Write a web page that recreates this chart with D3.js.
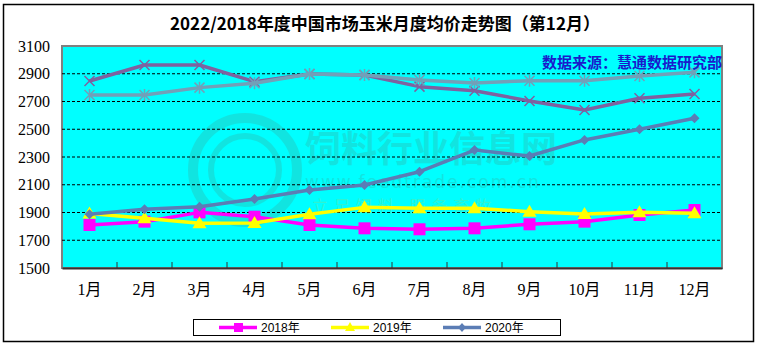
<!DOCTYPE html>
<html>
<head>
<meta charset="utf-8">
<script src="https://cdn.jsdelivr.net/npm/d3@7"></script>
<style>
  html, body { margin: 0; padding: 0; background: #fff; }
  svg { display: block; }
</style>
</head>
<body>
<svg id="chart" width="758" height="343"></svg>
<script>
// data
const months = ["1月", "2月", "3月", "4月", "5月", "6月", "7月", "8月", "9月", "10月", "11月", "12月"];
const yTicks = [1500, 1700, 1900, 2100, 2300, 2500, 2700, 2900, 3100];
const v2018 = [1810, 1834, 1901, 1870, 1810, 1786, 1779, 1786, 1815, 1834, 1882, 1918];
const v2019 = [1893, 1858, 1822, 1825, 1887, 1937, 1930, 1930, 1906, 1889, 1901, 1894];
const v2020 = [1887, 1923, 1942, 1997, 2062, 2098, 2194, 2350, 2307, 2423, 2500, 2579];
const v2021 = [2848, 2963, 2963, 2843, 2898, 2891, 2807, 2778, 2704, 2639, 2723, 2754];
const v2022 = [2747, 2747, 2800, 2831, 2898, 2891, 2855, 2833, 2850, 2850, 2884, 2910];

const series = [
  { name: "2018年", values: v2018, color: "#ff00ff", marker: "square", legend: true },
  { name: "2019年", values: v2019, color: "#ffff00", marker: "triangle", legend: true },
  { name: "2020年", values: v2020, color: "#5b7db5", marker: "diamond", legend: true },
  { name: "2021年", values: v2021, color: "#7e62a0", marker: "cross", legend: false },
  { name: "2022年", values: v2022, color: "#72a0b8", marker: "star", legend: false },
];

const svg = d3.select("#chart");
const plot = { left: 62, right: 722, top: 46, bottom: 268 };

// outer frame
svg.append("rect").attr("x", 3.5).attr("y", 4.5).attr("width", 750).attr("height", 337)
  .attr("fill", "#fff").attr("stroke", "#000").attr("stroke-width", 1.5);

const x = d3.scaleBand().domain(months).range([plot.left, plot.right]);
const y = d3.scaleLinear().domain([1500, 3100]).range([plot.bottom, plot.top]);

// plot background
svg.append("rect")
  .attr("x", plot.left).attr("y", plot.top)
  .attr("width", plot.right - plot.left).attr("height", plot.bottom - plot.top)
  .attr("fill", "#00ffff").attr("stroke", "#808080").attr("stroke-width", 2);

// watermark
const wm = svg.append("g").attr("opacity", 0.3).attr("fill", "#3aa89a");
wm.append("circle").attr("cx", 245).attr("cy", 170).attr("r", 52)
  .attr("fill", "none").attr("stroke", "#3aa89a").attr("stroke-width", 10);
wm.append("circle").attr("cx", 245).attr("cy", 170).attr("r", 34)
  .attr("fill", "none").attr("stroke", "#3aa89a").attr("stroke-width", 6);
wm.append("text").attr("x", 305).attr("y", 162).attr("font-size", 36).attr("font-weight", "bold")
  .attr("font-family", "Noto Sans CJK SC").text("饲料行业信息网");
wm.append("text").attr("x", 305).attr("y", 188).attr("font-size", 17)
  .attr("font-family", "DejaVu Sans").attr("letter-spacing", 2).text("www.feedtrade.com.cn");
wm.append("text").attr("x", 312).attr("y", 212).attr("font-size", 16).attr("fill", "#9ad86a")
  .attr("font-family", "Noto Sans CJK SC").attr("letter-spacing", 6).text("立足饲料  服务畜牧");

// gridlines
svg.append("g").selectAll("line")
  .data(yTicks.slice(1, -1))
  .join("line")
  .attr("x1", plot.left).attr("x2", plot.right)
  .attr("y1", d => y(d)).attr("y2", d => y(d))
  .attr("stroke", "#000").attr("stroke-width", 1).attr("stroke-dasharray", "3,2");

// axes
const yAxis = d3.axisLeft(y).tickValues(yTicks).tickFormat(d3.format("d")).tickSize(0).tickPadding(12);
const gy = svg.append("g").attr("transform", `translate(${plot.left},0)`).call(yAxis);
gy.select(".domain").remove();
gy.selectAll("text").attr("font-family", "Liberation Serif, serif").attr("font-size", 16).attr("fill", "#000");

const xAxis = d3.axisBottom(x).tickSize(0).tickPadding(16);
const gx = svg.append("g").attr("transform", `translate(0,${plot.bottom})`).call(xAxis);
gx.select(".domain").attr("stroke", "#333").attr("stroke-width", 2);
gx.selectAll("text").attr("font-family", "Liberation Serif, Noto Sans CJK SC, serif").attr("font-size", 16).attr("fill", "#000");
// tick marks between categories
svg.append("g").selectAll("line")
  .data(months.slice(1))
  .join("line")
  .attr("x1", d => x(d)).attr("x2", d => x(d))
  .attr("y1", plot.bottom).attr("y2", plot.bottom - 6)
  .attr("stroke", "#333").attr("stroke-width", 1);

// markers
function drawMarker(g, type, color, cx, cy) {
  if (type === "square") {
    g.append("rect").attr("x", cx - 6).attr("y", cy - 6).attr("width", 12).attr("height", 12).attr("fill", color);
  } else if (type === "triangle") {
    g.append("path").attr("d", `M${cx},${cy - 7}L${cx + 7},${cy + 5}L${cx - 7},${cy + 5}Z`).attr("fill", color);
  } else if (type === "diamond") {
    g.append("path").attr("d", `M${cx},${cy - 5}L${cx + 5},${cy}L${cx},${cy + 5}L${cx - 5},${cy}Z`).attr("fill", color);
  } else if (type === "cross") {
    g.append("path").attr("d", `M${cx - 5},${cy - 5}L${cx + 5},${cy + 5}M${cx - 5},${cy + 5}L${cx + 5},${cy - 5}`)
      .attr("stroke", color).attr("stroke-width", 1.5);
  } else if (type === "star") {
    g.append("path").attr("d", `M${cx - 5},${cy - 5}L${cx + 5},${cy + 5}M${cx - 5},${cy + 5}L${cx + 5},${cy - 5}M${cx},${cy - 6}L${cx},${cy + 6}`)
      .attr("stroke", color).attr("stroke-width", 1.5);
  }
}

const line = d3.line()
  .x((d, i) => x(months[i]) + x.bandwidth() / 2)
  .y(d => y(d));

series.forEach(s => {
  const g = svg.append("g");
  g.append("path").datum(s.values).attr("d", line)
    .attr("fill", "none").attr("stroke", s.color).attr("stroke-width", 3.5).attr("stroke-linejoin", "round");
  s.values.forEach((v, i) => drawMarker(g, s.marker, s.color, x(months[i]) + x.bandwidth() / 2, y(v)));
});

// title
svg.append("text").attr("x", 385).attr("y", 30).attr("text-anchor", "middle")
  .attr("font-family", "Noto Sans CJK SC").attr("font-weight", "bold").attr("font-size", 17)
  .text("2022/2018年度中国市场玉米月度均价走势图（第12月）");

// source
svg.append("text").attr("x", 722).attr("y", 68).attr("text-anchor", "end")
  .attr("font-family", "Noto Sans CJK SC").attr("font-weight", "bold").attr("font-size", 15)
  .attr("fill", "#1a1acc")
  .text("数据来源：慧通数据研究部");

// legend
const legendItems = series.filter(s => s.legend);
const lg = svg.append("g");
lg.append("rect").attr("x", 193.5).attr("y", 319.5).attr("width", 367).attr("height", 16)
  .attr("fill", "#fff").attr("stroke", "#000").attr("stroke-width", 1);
const lx = d3.scalePoint().domain(legendItems.map(s => s.name)).range([219, 443]);
legendItems.forEach(s => {
  const x0 = lx(s.name);
  lg.append("line").attr("x1", x0).attr("x2", x0 + 38).attr("y1", 327.5).attr("y2", 327.5)
    .attr("stroke", s.color).attr("stroke-width", 3.5);
  const mg = lg.append("g");
  if (s.marker === "square") mg.append("rect").attr("x", x0 + 15).attr("y", 323).attr("width", 9).attr("height", 9).attr("fill", s.color);
  if (s.marker === "triangle") mg.append("path").attr("d", `M${x0 + 19},${322}L${x0 + 24},${331}L${x0 + 14},${331}Z`).attr("fill", s.color);
  if (s.marker === "diamond") mg.append("path").attr("d", `M${x0 + 19},${323}L${x0 + 23},${327.5}L${x0 + 19},${332}L${x0 + 15},${327.5}Z`).attr("fill", s.color);
  lg.append("text").attr("x", x0 + 42).attr("y", 332).attr("font-family", "Liberation Sans, Noto Sans CJK SC")
    .attr("font-size", 12).text(s.name);
});
</script>
</body>
</html>
